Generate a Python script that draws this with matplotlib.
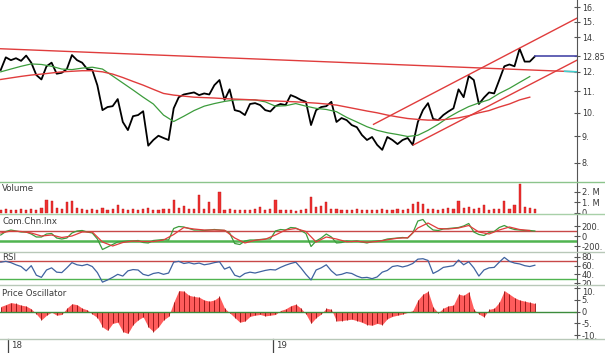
import numpy as np
import pandas as pd
import matplotlib
matplotlib.use('Agg')
import matplotlib.pyplot as plt
from matplotlib.lines import Line2D
from matplotlib.ticker import FixedLocator, NullLocator
from matplotlib.transforms import Bbox, TransformedBbox

# weekly data
dates = pd.date_range('2017-12-22', periods=106, freq='7D')
ma_dates = dates[::2]

close = [12.1, 12.8, 12.64, 12.75, 12.6, 12.9, 12.5, 11.83, 11.6, 12.3,
         12.5, 11.9, 11.95, 12.15, 12.93, 12.64, 12.5, 12.15, 12.1, 11.3,
         10.12, 10.26, 10.3, 10.63, 9.6, 9.26, 9.85, 9.9, 10.07, 8.64,
         8.86, 9.03, 8.94, 8.86, 10.2, 10.72, 10.85, 10.9, 10.95, 10.82,
         10.9, 10.85, 11.31, 11.57, 10.59, 11.1, 10.12, 10.06, 9.9, 10.4,
         10.44, 10.35, 10.12, 10.06, 10.3, 10.4, 10.35, 10.82, 10.72, 10.59,
         10.5, 9.47, 10.12, 10.26, 10.3, 10.5, 9.6, 9.77, 9.68, 9.47,
         9.38, 9.06, 8.86, 8.98, 8.67, 8.48, 8.98, 8.86, 8.7, 8.86,
         8.94, 8.67, 9.6, 10.12, 10.44, 9.73, 9.68, 9.9, 10.06, 10.2,
         11.1, 10.72, 11.78, 11.57, 10.4, 10.7, 10.95, 10.9, 11.57, 12.3,
         12.4, 12.3, 13.3, 12.56, 12.56, 12.85]

volume = [0.3, 0.4, 0.3, 0.25, 0.4, 0.3, 0.35, 0.3, 0.5, 1.2,
          1.1, 0.5, 0.4, 1.0, 1.1, 0.5, 0.35, 0.3, 0.4, 0.3,
          0.45, 0.3, 0.35, 0.8, 0.35, 0.3, 0.4, 0.3, 0.35, 0.45,
          0.3, 0.3, 0.35, 0.4, 1.2, 0.5, 0.7, 0.4, 0.35, 1.7,
          0.4, 1.0, 0.4, 1.95, 0.3, 0.35, 0.3, 0.25, 0.3, 0.3,
          0.35, 0.6, 0.3, 0.35, 1.2, 0.3, 0.25, 0.3, 0.2, 0.3,
          0.35, 1.5, 0.6, 0.7, 1.0, 0.4, 0.35, 0.3, 0.3, 0.25,
          0.35, 0.3, 0.3, 0.25, 0.3, 0.35, 0.3, 0.3, 0.35, 0.3,
          0.4, 0.9, 1.0, 0.9, 0.35, 0.4, 0.3, 0.35, 0.45, 0.4,
          1.1, 0.5, 0.6, 0.4, 0.45, 0.8, 0.3, 0.35, 0.4, 1.1,
          0.4, 0.8, 2.8, 0.6, 0.5, 0.4]  # millions

ma_short = [12.0, 12.15, 12.3, 12.43, 12.4, 12.3, 12.15, 12.12, 12.2, 12.25,
            12.15, 11.78, 11.42, 11.07, 10.72, 10.4, 9.9, 9.62, 9.85, 10.1,
            10.3, 10.42, 10.52, 10.59, 10.6, 10.59, 10.5, 10.3, 10.32, 10.42,
            10.3, 10.2, 10.15, 10.05, 9.8, 9.6, 9.4, 9.25, 9.15, 9.08,
            9.0, 9.05, 9.25, 9.5, 9.8, 10.05, 10.28, 10.45, 10.6, 10.9,
            11.15, 11.45, 11.75]

ma_long = [11.6, 11.68, 11.76, 11.83, 11.88, 11.94, 12.0, 12.03, 12.06, 12.06,
           12.0, 11.88, 11.7, 11.5, 11.31, 11.1, 10.9, 10.82, 10.77, 10.72,
           10.7, 10.68, 10.65, 10.63, 10.61, 10.59, 10.56, 10.54, 10.52, 10.5,
           10.47, 10.44, 10.4, 10.35, 10.26, 10.17, 10.08, 10.0, 9.9, 9.82,
           9.75, 9.71, 9.68, 9.68, 9.72, 9.78, 9.87, 10.0, 10.1, 10.26,
           10.4, 10.59, 10.72]

cci = [20, 90, 120, 100, 80, 80, 40, -20, -20, 40,
       50, -40, -60, -40, 60, 100, 110, 80, 60, -60,
       -270, -220, -170, -120, -110, -100, -100, -90, -130, -140,
       -90, -80, -70, -80, 150, 190, 180, 150, 120, 120,
       110, 120, 130, 120, 110, 60, -150, -170, -100, -80,
       -80, -70, -60, -60, 100, 130, 120, 170, 160, 110,
       50, -210, -100, -40, 40, -20, -140, -130, -100, -110,
       -100, -120, -140, -110, -100, -90, -60, -50, -40, -30,
       -40, 60, 300, 330, 200, 120, 110, 140, 150, 160,
       170, 200, 250, 80, 30, 10, 70, 90, 170, 210,
       160, 130, 120, 110, 110, 100]

cci_signal = [60, 100, 90, 60, 0, 20, -30, 0, 80, 80,
              -120, -200, -130, -100, -110, -110, -80, 30, 170, 140,
              120, 120, 115, -40, -140, -85, -65, 20, 120, 150,
              90, -120, -20, -60, -115, -105, -125, -110, -75, -45,
              -35, 160, 260, 150, 140, 160, 210, 80, 40, 120,
              180, 130, 110]

rsi = [68, 70, 67, 62, 58, 48, 60, 38, 33, 50,
       55, 45, 44, 55, 67, 62, 60, 63, 58, 44,
       22, 27, 33, 40, 36, 48, 51, 50, 40, 37,
       42, 44, 40, 43, 68, 70, 65, 67, 64, 66,
       62, 64, 67, 69, 52, 57, 38, 34, 42, 45,
       43, 46, 49, 51, 50, 56, 61, 65, 68, 55,
       40, 27, 50, 55, 62, 48, 38, 40, 44, 42,
       36, 32, 33, 30, 34, 45, 49, 58, 60, 57,
       60, 65, 75, 76, 72, 42, 48, 56, 58, 60,
       73, 62, 69, 55, 36, 50, 55, 56, 68, 79,
       70, 66, 64, 60, 58, 61]

price_osc = [2.2, 3.0, 3.9, 3.5, 2.8, 2.4, 1.2, -1.0, -3.5, -1.5,
             -0.2, -1.5, -1.2, 1.5, 3.4, 3.0, 1.5, 0.8, -1.0, -2.5,
             -6.5, -8.0, -5.0, -4.5, -8.5, -9.3, -5.5, -3.5, -2.2, -6.5,
             -8.5, -6.5, -3.5, -2.0, 4.0, 9.0, 8.8, 7.0, 6.5, 6.2,
             5.0, 4.5, 5.0, 6.5, 1.5, -0.5, -2.5, -4.5, -4.0, -2.0,
             -1.5, -1.2, -1.8, -1.5, -1.2, 0.5, 1.2, 2.5, 3.2, 1.5,
             -1.0, -5.0, -2.5, -1.0, 1.5, 1.0, -4.0, -3.8, -3.5, -3.2,
             -3.8, -4.5, -5.5, -5.8, -5.0, -5.5, -3.0, -2.0, -1.5, -1.0,
             -0.3, 0.5, 5.0, 7.5, 8.7, 2.0, -0.5, 1.5, 2.5, 2.8,
             7.5, 7.0, 8.5, 1.0, -1.0, -2.2, 1.0, 1.5, 4.0, 9.0,
             7.5, 6.0, 5.0, 4.5, 4.0, 3.5]

# trend lines (start/end date, price)
resist_dates = pd.to_datetime(['2017-12-21', '2020-02-23'])
resist_vals = [13.3, 12.0]
upper_dates = pd.to_datetime(['2019-05-19', '2020-02-23'])
upper_vals = [9.5, 15.24]
lower_dates = pd.to_datetime(['2019-07-13', '2020-02-23'])
lower_vals = [8.67, 12.64]

x_start = pd.Timestamp('2017-12-21')
x_end = pd.Timestamp('2020-02-23')

W, H = 605, 353
fig = plt.figure(figsize=(W / 100, H / 100), dpi=100)
fig.patch.set_facecolor('white')

panels = []
def panel(top, bottom):
    a = fig.add_axes([0, 1 - bottom / H, 577 / W, (bottom - top) / H])
    panels.append((a, top, bottom))
    return a

ax = panel(0, 182)
axv = panel(182, 214)
axc = panel(214, 252)
axr = panel(252, 285)
axo = panel(285, 339)

red = '#e03c3c'
green = '#3c9c3c'
txt = '#3a3a3a'

for a, _, _ in panels:
    a.set_xlim(x_start, x_end)
    for s in ['top', 'left', 'bottom']:
        a.spines[s].set_visible(False)
    a.spines['right'].set_color('#555555')
    a.spines['right'].set_linewidth(0.8)
    a.yaxis.tick_right()
    a.tick_params(axis='y', direction='inout', length=5, width=0.8, colors='#555555',
                  labelsize=6, labelcolor=txt, pad=1)
    a.set_xticks([])
    a.set_facecolor('none')

# price panel
ax.plot(dates, close, color='black', lw=1.3)
ax.plot(ma_dates, ma_short, color=green, lw=0.9)
ax.plot(ma_dates, ma_long, color=red, lw=1.0)
ax.plot(resist_dates, resist_vals, color=red, lw=1.0)
ax.plot(pd.to_datetime(['2020-02-06', '2020-02-23']), [12.03, 12.0], color='#40d0d0', lw=1.2)
ax.plot(upper_dates, upper_vals, color=red, lw=1.0)
ax.plot(lower_dates, lower_vals, color=red, lw=1.0)
ax.plot([dates[-1], x_end], [close[-1], close[-1]], color='#4848a8', lw=1.2)
ax.set_yscale('log')
ax.set_ylim(7.35, 16.52)
ax.yaxis.set_major_locator(FixedLocator([8, 9, 10, 11, 12, 12.85, 14, 15, 16]))
ax.yaxis.set_minor_locator(NullLocator())
ax.set_yticklabels(['8.', '9.', '10.', '11.', '12.', '12.85', '14.', '15.', '16.'])
ax.tick_params(axis='y', labelsize=5.8)

# volume
axv.bar(dates, np.array(volume) * 1e6, width=3, color='#ee3030', edgecolor='#c01818', lw=0.3)
axv.set_ylim(-0.1e6, 2.95e6)
axv.set_yticks([0, 1e6, 2e6])
axv.set_yticklabels(['0', '1. M', '2. M'])
axv.text(0.004, 1 - 6 / 32, 'Volume', transform=axv.transAxes, fontsize=6.2, color=txt, va='center')

# Chaikin / CCI
axc.axhline(100, color='#c84848', lw=1.0)
axc.axhline(-100, color='#50b450', lw=1.8)
axc.plot(dates, cci, color=green, lw=0.9)
axc.plot(ma_dates, cci_signal, color=red, lw=0.9)
axc.set_ylim(-320, 440)
axc.set_yticks([-200, 0, 200])
axc.set_yticklabels(['-200.', '0', '200.'])
axc.text(0.004, 1 - 8 / 38, 'Com.Chn.Inx', transform=axc.transAxes, fontsize=6.2, color=txt, va='center')

# RSI
axr.axhline(70, color='#c84848', lw=1.0)
axr.axhline(30, color='#50b450', lw=1.0)
axr.plot(dates, rsi, color='#3f62a0', lw=0.9)
axr.set_ylim(15.4, 91.5)
axr.set_yticks([20, 40, 60, 80])
axr.set_yticklabels(['20.', '40.', '60.', '80.'])
axr.text(0.004, 1 - 6 / 33, 'RSI', transform=axr.transAxes, fontsize=6.2, color=txt, va='center')

# price oscillator
axo.fill_between(dates, price_osc, 0, color='#ff5c5c', lw=0)
axo.vlines(dates, 0, price_osc, color='#8a1010', lw=0.6)
axo.axhline(0, color='#3c8c3c', lw=1.0)
axo.set_ylim(-11.67, 11.4)
axo.set_yticks([-10, -5, 0, 5, 10])
axo.set_yticklabels(['-10.', '-5.', '0', '5.', '10.'])
axo.get_yticklabels()[-1].set_verticalalignment('top')
axo.text(0.004, 1 - 8 / 54, 'Price Oscillator', transform=axo.transAxes, fontsize=6.2, color=txt, va='center')

# tick labels at panel edges are cut by the panel borders, as in the original
for a, top, bottom in panels:
    clip = TransformedBbox(Bbox([[0, 1 - bottom / H], [1, 1 - top / H]]), fig.transFigure)
    for lab in a.get_yticklabels():
        lab.set_clip_on(True)
        lab.set_clip_box(clip)

# year ticks below
for d, lab in [('2018-01-01', '18'), ('2019-01-01', '19')]:
    t = pd.Timestamp(d)
    axo.plot([t, t], [0, -13 / 54], transform=axo.get_xaxis_transform(), color='#444444',
             lw=0.9, clip_on=False)
    axo.annotate(lab, xy=(t, -7 / 54), xycoords=('data', 'axes fraction'), xytext=(2, 0),
                 textcoords='offset points', fontsize=6.2, color=txt, va='center')

# panel separators spanning the full width
for yy, col in [(182, '#8cc48c'), (214, '#a8d0a8'), (252, '#b8c8b8'), (285, '#b8c8b8'), (339, '#b8c8b8')]:
    fig.add_artist(Line2D([0, 1], [1 - yy / H, 1 - yy / H], color=col, lw=1.0))

fig.savefig('out.png', dpi=100)
